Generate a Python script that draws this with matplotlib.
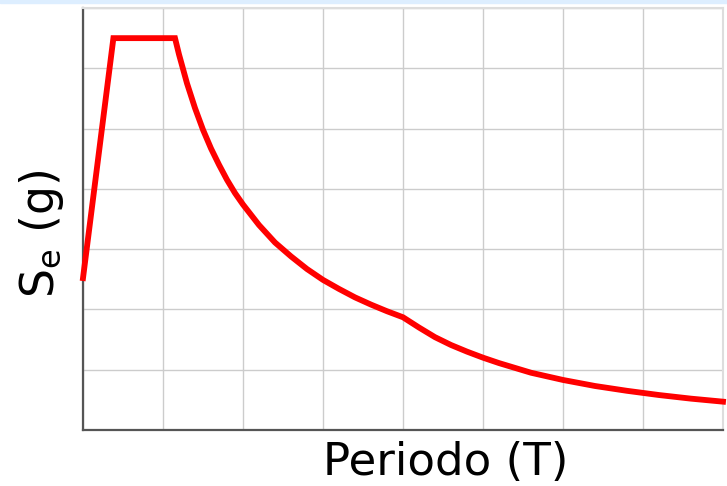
import numpy as np
import matplotlib.pyplot as plt
from matplotlib.patches import Rectangle

# Elastic response spectrum (T in s, Se in g)
periodo = [0.0, 0.19, 0.575, 0.6, 0.65, 0.7, 0.75, 0.8, 0.85, 0.9, 0.95, 1.0,
           1.1, 1.2, 1.3, 1.4, 1.5, 1.6, 1.7, 1.8, 1.9, 2.0,
           2.1, 2.2, 2.3, 2.4, 2.5, 2.6, 2.7, 2.8, 2.9, 3.0, 3.2, 3.4, 3.6, 3.8, 4.0]
se = [0.252, 0.65, 0.65, 0.623, 0.575, 0.534, 0.498, 0.467, 0.440, 0.415, 0.393, 0.374,
      0.340, 0.311, 0.288, 0.267, 0.249, 0.234, 0.220, 0.208, 0.197, 0.187,
      0.170, 0.154, 0.141, 0.130, 0.120, 0.111, 0.103, 0.095, 0.089, 0.083, 0.073,
      0.065, 0.058, 0.052, 0.047]

x_ticks = np.arange(0, 4.01, 0.5)
y_ticks = np.arange(0, 0.71, 0.1)

fig = plt.figure(figsize=(7.27, 4.86), dpi=100)
ax = fig.add_axes([83 / 727, 56 / 486, 640 / 727, 422 / 486])

# thin light blue band along the top edge
fig.patches.append(Rectangle((0, 1 - 3 / 486), 1, 3 / 486, transform=fig.transFigure,
                             color='#ddeeff', zorder=0))

ax.plot(periodo, se, color='#ff0000', lw=4.2, solid_joinstyle='miter', clip_on=False, zorder=3)

ax.set_xlim(0, 4)
ax.set_ylim(0, 0.7)
ax.set_xticks(x_ticks)
ax.set_yticks(y_ticks)
ax.tick_params(length=0, labelbottom=False, labelleft=False)
ax.grid(True, color='#cccccc', lw=1)

for s in ['left', 'bottom']:
    ax.spines[s].set_color('#555555')
    ax.spines[s].set_linewidth(1.6)
for s in ['top', 'right']:
    ax.spines[s].set_color('#dddddd')
    ax.spines[s].set_linewidth(1.5)

fig.text(446 / 727, 1 - 462 / 486, 'Periodo (T)', fontsize=32.5, ha='center', va='center')
fig.text(41 / 727, 1 - 234 / 486, r'$\mathregular{S_e}$ (g)', fontsize=33, rotation=90,
         ha='center', va='center')

fig.savefig('out.png', dpi=100)
